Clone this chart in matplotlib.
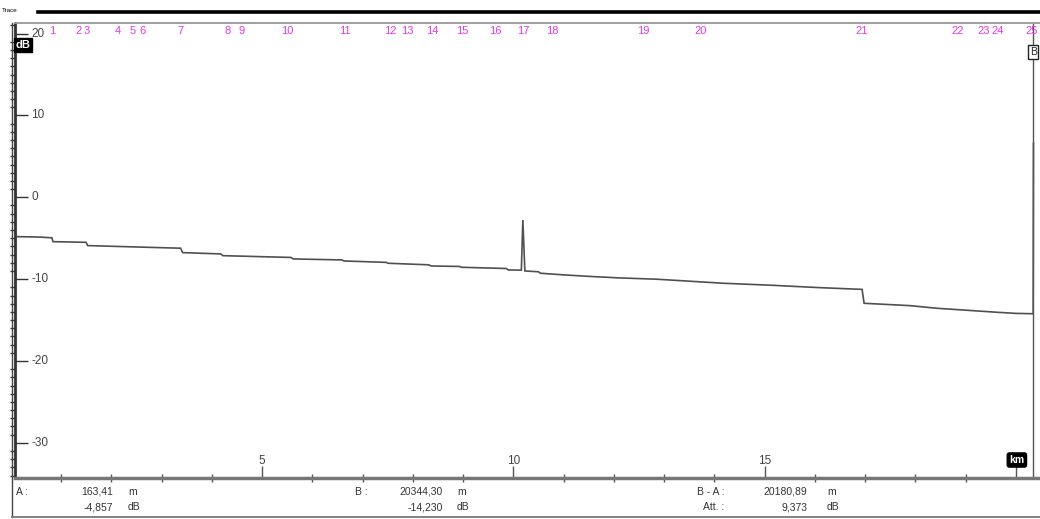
import matplotlib
matplotlib.use('Agg')
import matplotlib.pyplot as plt
from matplotlib.lines import Line2D
from matplotlib.transforms import blended_transform_factory

plt.rcParams['font.family'] = ['Liberation Sans', 'DejaVu Sans']

W, H = 1040, 519

# ---- trace (km, dB) ----
dist_km = [0.085, 0.58, 0.82, 0.84, 1.50, 1.53, 2.97, 3.38, 3.42, 4.18, 4.22,
           5.58, 5.62, 6.59, 6.63, 7.47, 7.51, 8.32, 8.36, 8.93, 8.97, 9.86,
           9.90, 10.16, 10.19, 10.23, 10.50, 10.54, 11.03, 11.59, 12.12, 12.86,
           14.17, 15.15, 16.10, 16.94, 16.98, 17.90, 18.43, 18.95, 19.63, 19.99,
           20.344, 20.35]
level_db = [-4.80, -4.86, -4.95, -5.42, -5.50, -5.90, -6.15, -6.22, -6.76, -6.92, -7.13,
            -7.35, -7.53, -7.65, -7.78, -7.95, -8.06, -8.25, -8.39, -8.45, -8.55, -8.70,
            -8.88, -8.90, -2.77, -9.00, -9.10, -9.28, -9.49, -9.69, -9.85, -10.01,
            -10.50, -10.75, -11.04, -11.25, -12.95, -13.24, -13.56, -13.77, -14.05, -14.18,
            -14.23, 6.6]

# events (marker number -> km)
event_ids = list(range(1, 26))
event_km = [0.82, 1.34, 1.52, 2.13, 2.43, 2.63, 3.37, 4.32, 4.60, 5.50,
            6.65, 7.55, 7.89, 8.38, 8.98, 9.64, 10.19, 10.77, 12.58, 13.72,
            16.94, 18.85, 19.35, 19.63, 20.32]

# cursors
a_m, a_db = 163.41, -4.857
b_m, b_db = 20344.30, -14.230
ba_m, att_db = 20180.89, 9.373

y_major = [-30, -20, -10, 0, 10, 20]
x_labels = [5, 10, 15]


def fmt(v, d):
    return f'{v:.{d}f}'.replace('.', ',')


fig = plt.figure(figsize=(W / 100, H / 100), dpi=100)
ax = fig.add_axes([15 / W, 1 - 478 / H, (W - 15) / W, (478 - 23) / H])

ax.plot(dist_km, level_db, color='#505050', lw=1.2, solid_joinstyle='miter')
ax.axvline(b_m / 1000, color='#555555', lw=1)

ax.set_xlim(0.085, 20.48)
ax.set_ylim(-34.3, 21.3)

ax.spines['right'].set_visible(False)
ax.spines['left'].set_color('#333333')
ax.spines['left'].set_linewidth(2)
ax.spines['top'].set_color('#999999')
ax.spines['top'].set_linewidth(1.3)
ax.spines['bottom'].set_color('#777777')
ax.spines['bottom'].set_linewidth(2.5)

ax.set_yticks(y_major)
ax.set_yticks(range(-34, 22), minor=True)
ax.tick_params(axis='y', which='major', direction='in', length=9, width=1,
               color='#333333', labelleft=False)
ax.tick_params(axis='y', which='minor', direction='out', length=3.5, width=1,
               color='#333333')
ax.set_xticks([5, 10, 15, 20])
ax.set_xticks(range(1, 21), minor=True)
ax.tick_params(axis='x', which='major', direction='in', length=9, width=1,
               color='#555555', labelbottom=False)
ax.tick_params(axis='x', which='minor', direction='inout', length=6, width=1,
               color='#555555')

ty = blended_transform_factory(ax.transAxes, ax.transData)
tx = blended_transform_factory(ax.transData, ax.transAxes)

for v in y_major:
    ax.text(16 / 1025, v, str(v), transform=ty, ha='left', va='center',
            fontsize=8.5, color='#444444')
for v in x_labels:
    ax.text(v, (478 - 461) / 455, str(v), transform=tx, ha='center', va='center',
            fontsize=8.5, color='#444444')

for n, km in zip(event_ids, event_km):
    ax.text(km, (478 - 31) / 455, str(n), transform=tx, ha='center', va='center',
            fontsize=8, color='#e438e4')

ax.text(8 / 1025, (478 - 45) / 455, 'dB', transform=ax.transAxes, ha='center',
        va='center', fontsize=8, color='white', fontweight='bold',
        bbox=dict(boxstyle='square,pad=0.18', fc='black', ec='black'))
ax.text(20.02, (478 - 460) / 455, 'km', transform=tx, ha='center', va='center',
        fontsize=7.5, color='white', fontweight='bold',
        bbox=dict(boxstyle='round,pad=0.2', fc='black', ec='black'))
ax.text(b_m / 1000, (478 - 52) / 455, 'B', transform=tx, ha='center', va='center',
        fontsize=7.5, color='#222222',
        bbox=dict(boxstyle='square,pad=0.15', fc='white', ec='#222222'))

# header
fig.text(2 / W, 1 - 10 / H, 'Trace', fontsize=4.5, va='center', ha='left')
fig.add_artist(Line2D([38 / W, 1], [1 - 12 / H] * 2, color='black', lw=2.6))
# ruler line on the left and info panel frame
fig.add_artist(Line2D([12 / W] * 2, [1 - 23 / H, 1 - 517 / H], color='#444444', lw=1))
fig.add_artist(Line2D([12 / W, 1], [1 - 517 / H] * 2, color='#777777', lw=1.3))

# info panel
def info(x, y, s, ha='left'):
    fig.text(x / W, 1 - y / H, s, ha=ha, va='center', fontsize=7.5, color='#333333')

r1, r2 = 492, 507
info(16, r1, 'A :')
info(113, r1, fmt(a_m, 2), 'right')
info(128, r1, 'm')
info(113, r2, fmt(a_db, 3), 'right')
info(128, r2, 'dB')

info(355, r1, 'B :')
info(443, r1, fmt(b_m, 2), 'right')
info(457, r1, 'm')
info(443, r2, fmt(b_db, 3), 'right')
info(457, r2, 'dB')

info(697, r1, 'B - A :')
info(807, r1, fmt(ba_m, 2), 'right')
info(827, r1, 'm')
info(703, r2, 'Att. :')
info(807, r2, fmt(att_db, 3), 'right')
info(827, r2, 'dB')

fig.savefig('out.png', dpi=100)
